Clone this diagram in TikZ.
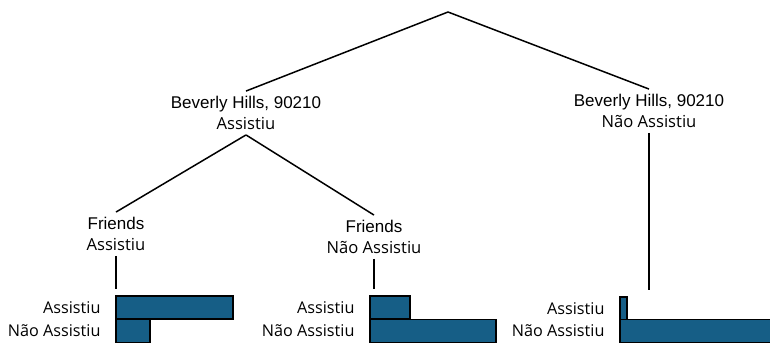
\documentclass[tikz,border=0pt]{standalone}
\usepackage{fontspec}
\setmainfont{Open Sans}
\newfontfamily\arialfont{Liberation Sans}
\definecolor{barblue}{RGB}{22,94,134}
\newcommand{\answer}[1]{{\normalfont\fontsize{16.6}{21}\selectfont #1}}
\tikzset{
  treenode/.style={align=center, inner sep=5pt, font=\arialfont\fontsize{17}{21}\selectfont},
  lbl/.style={anchor=east, font=\fontsize{16.2}{20}\selectfont},
  bar/.style={draw=black, line width=1.5pt, fill=barblue, anchor=north west, minimum height=23pt, inner sep=0pt},
  edge/.style={line width=1.5pt}
}
\begin{document}
\begin{tikzpicture}[x=1pt, y=-1pt]
            \useasboundingbox (0,0) rectangle (770,345);
            \coordinate (root) at (448,12);
            \node[treenode] (bhL) at (246,113) {Beverly Hills, 90210\\\answer{Assistiu}};
            \node[treenode] (bhR) at (649,111) {Beverly Hills, 90210\\\answer{Não Assistiu}};
            \node[treenode] (frL) at (116,234) {Friends\\\answer{Assistiu}};
            \node[treenode] (frR) at (374,237) {Friends\\\answer{Não Assistiu}};

            \node[bar, minimum width=117pt] (barLa) at (115,295) {};
            \node[bar, minimum width=34pt] (barLb) at (115,318.5) {};
            \node[bar, minimum width=40pt] (barMa) at (369,295) {};
            \node[bar, minimum width=126pt] (barMb) at (369,318.5) {};
            \node[bar, minimum width=7pt] (barRa) at (619,296) {};
            \node[bar, minimum width=152pt] (barRb) at (619,318.5) {};

            \node[lbl] (lblLa) at ([xshift=-11pt]barLa.west) {Assistiu};
            \node[lbl] (lblLb) at ([xshift=-11pt]barLb.west) {Não Assistiu};
            \node[lbl] (lblMa) at ([xshift=-11pt]barMa.west) {Assistiu};
            \node[lbl] (lblMb) at ([xshift=-11pt]barMb.west) {Não Assistiu};
            \node[lbl] (lblRa) at ([xshift=-11pt]barRa.west) {Assistiu};
            \node[lbl] (lblRb) at ([xshift=-11pt]barRb.west) {Não Assistiu};

            \draw [edge](root) -- (bhL.north);
            \draw [edge](root) -- (bhR.north);
            \draw [edge](bhL.south) -- (frL.north);
            \draw [edge](bhL.south) -- (frR.north);
            \draw [edge, shorten >=6pt](bhR.south) -- (bhR.south |- barRa.north);
            \draw [edge, shorten >=6pt](frL.south) -- (frL.south |- barLa.north);
            \draw [edge, shorten >=6pt](frR.south) -- (frR.south |- barMa.north);
        \end{tikzpicture}
\end{document}
